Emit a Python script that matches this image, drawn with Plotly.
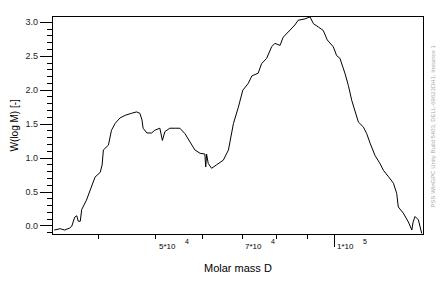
import numpy as np
import plotly.graph_objects as go

# Molar mass (D) and W(log M)
molar_mass = [33700, 34500, 35100, 35800, 36100, 36500, 36800, 37000, 37300, 37500,
              38200, 39000, 39500, 40300, 40600, 40800, 41600, 42100, 42700, 43500,
              44400, 45500, 46400, 47000, 47400, 47600, 48300, 49200, 49800, 50800,
              51300, 51800, 52800, 53900, 54900, 56000, 57100, 58200, 59400, 60500,
              60700, 60900, 61300, 62100, 63300, 65000, 66300, 67600, 68900, 70100,
              71600, 72600, 74400, 75400, 76900, 78400, 79400, 81000, 82000, 84200,
              85800, 86900, 89200, 91000, 92200, 94000, 95800, 97300, 99600, 100900,
              102200, 104200, 105600, 107000, 108300, 109800, 111900, 113400, 114900, 117100,
              119400, 121000, 123300, 125800, 127400, 128200, 130700, 133300, 135100, 135800,
              136800, 138600, 140400]
w_logm = [-0.06, -0.04, -0.06, -0.03, 0.00, 0.13, 0.15, 0.07, 0.07, 0.24,
          0.38, 0.60, 0.72, 0.79, 0.90, 1.12, 1.19, 1.41, 1.51, 1.59,
          1.63, 1.66, 1.68, 1.66, 1.56, 1.44, 1.37, 1.37, 1.41, 1.44,
          1.26, 1.39, 1.44, 1.44, 1.44, 1.36, 1.24, 1.12, 1.07, 1.06,
          0.87, 1.06, 0.92, 0.85, 0.90, 0.97, 1.12, 1.51, 1.75, 2.00,
          2.10, 2.21, 2.25, 2.39, 2.47, 2.64, 2.69, 2.66, 2.78, 2.88,
          2.96, 3.03, 3.05, 3.08, 2.98, 2.93, 2.88, 2.74, 2.64, 2.51,
          2.47, 2.25, 2.07, 1.85, 1.71, 1.53, 1.46, 1.36, 1.22, 1.04,
          0.92, 0.82, 0.73, 0.63, 0.48, 0.28, 0.19, 0.06, -0.06, 0.06,
          0.14, 0.09, -0.11]

x_minor_ticks = [40000, 50000, 60000, 70000, 80000, 90000, 100000]
x_major_ticks = [100000]
x_labels = [(50000, "5*10", "4"), (70000, "7*10", "4"), (100000, "1*10", "5")]

x_range = [np.log10(33550), np.log10(141100)]
y_range = [-0.118, 3.078]

FONT = "Liberation Sans, Arial, sans-serif"

fig = go.Figure()
fig.add_trace(go.Scatter(x=molar_mass, y=w_logm, mode="lines",
                         line=dict(color="black", width=1.0), showlegend=False))
# invisible trace on secondary axis for the long 1e5 tick
fig.add_trace(go.Scatter(x=[molar_mass[0]], y=[w_logm[0]], xaxis="x2", mode="lines",
                         line=dict(color="rgba(0,0,0,0)"), showlegend=False, hoverinfo="skip"))

fig.update_layout(
    width=442, height=289,
    margin=dict(l=53, r=19, t=17, b=55),
    paper_bgcolor="white", plot_bgcolor="white",
    font=dict(family=FONT, color="black", size=9),
    xaxis=dict(type="log", range=x_range, tickvals=x_minor_ticks, ticks="outside",
               ticklen=4, tickcolor="black", tickwidth=1, showticklabels=False,
               showgrid=False, zeroline=False, showline=True, linecolor="black",
               linewidth=1.3, mirror=True),
    xaxis2=dict(type="log", range=x_range, overlaying="x", side="bottom",
                tickvals=x_major_ticks, ticks="outside", ticklen=12, tickcolor="black",
                tickwidth=1, showticklabels=False, showgrid=False, zeroline=False,
                showline=False),
    yaxis=dict(range=y_range, tickvals=[0, 0.5, 1, 1.5, 2, 2.5, 3], tickformat=".1f",
               ticks="outside", ticklen=12, tickcolor="black", tickwidth=1,
               tickfont=dict(size=9, color="#222"),
               minor=dict(dtick=0.1, tick0=0, ticks="outside", ticklen=5,
                          tickcolor="black", showgrid=False),
               showgrid=False, zeroline=False, showline=True, linecolor="black",
               linewidth=1.3, mirror=True),
)

annotations = []
for val, base, exp in x_labels:
    annotations.append(dict(x=np.log10(val), y=-0.058, xref="x", yref="paper",
                            text=base, showarrow=False, xanchor="left", yanchor="middle",
                            xshift=1, font=dict(size=8, family=FONT)))
    annotations.append(dict(x=np.log10(val), y=-0.035, xref="x", yref="paper",
                            text=exp, showarrow=False, xanchor="left", yanchor="middle",
                            xshift=27, font=dict(size=7, family=FONT)))
annotations.append(dict(x=0.5, y=-0.155, xref="paper", yref="paper", text="Molar mass D",
                        showarrow=False, xanchor="center", yanchor="middle",
                        font=dict(size=11, family=FONT)))
annotations.append(dict(x=-0.103, y=0.5, xref="paper", yref="paper", text="W(log M) [-]",
                        showarrow=False, textangle=-90, xanchor="center", yanchor="middle",
                        font=dict(size=10, family=FONT)))
annotations.append(dict(x=1.027, y=0.5, xref="paper", yref="paper",
                        text="PSS WinGPC Unity Build 5403, DELL-69623DH1, Instance 1",
                        showarrow=False, textangle=-90, xanchor="center", yanchor="middle",
                        font=dict(size=6, family=FONT, color="#aaaaaa")))
fig.update_layout(annotations=annotations)

fig.write_html("out.html")
